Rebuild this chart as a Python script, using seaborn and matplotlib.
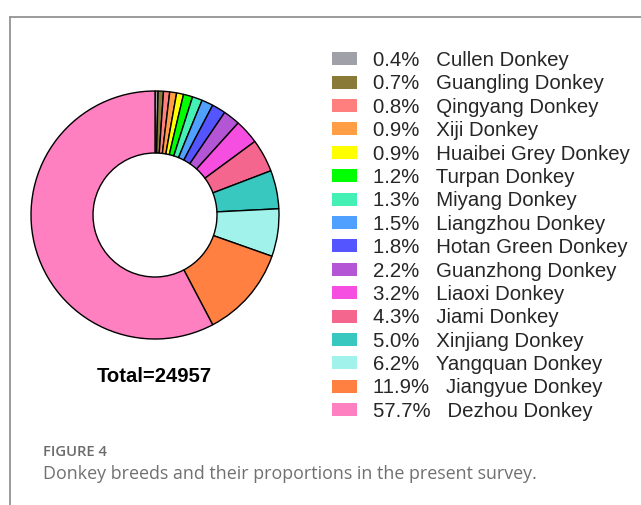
import matplotlib
matplotlib.use("Agg")
import matplotlib.pyplot as plt
from matplotlib.patches import Patch
from matplotlib.lines import Line2D
import seaborn as sns

breeds = ["Cullen Donkey", "Guangling Donkey", "Qingyang Donkey", "Xiji Donkey",
          "Huaibei Grey Donkey", "Turpan Donkey", "Miyang Donkey", "Liangzhou Donkey",
          "Hotan Green Donkey", "Guanzhong Donkey", "Liaoxi Donkey", "Jiami Donkey",
          "Xinjiang Donkey", "Yangquan Donkey", "Jiangyue Donkey", "Dezhou Donkey"]
shares = [0.4, 0.7, 0.8, 0.9, 0.9, 1.2, 1.3, 1.5, 1.8, 2.2, 3.2, 4.3, 5.0, 6.2, 11.9, 57.7]
hex_colors = ["#a0a0a8", "#8a7a38", "#ff7f7f", "#ff9e45", "#ffff00", "#00ff00",
              "#45f0b5", "#50a0ff", "#5555ff", "#b455d5", "#f54ee0", "#f5668f",
              "#38c8c0", "#a0f2ea", "#ff8040", "#ff80c0"]
total = 24957

sns.set_theme(style="white")
plt.rcParams["font.family"] = ["Liberation Sans", "DejaVu Sans"]
palette = sns.color_palette(hex_colors)

W, H = 641, 505
fig = plt.figure(figsize=(W / 100, H / 100), dpi=100)

# donut
ax = fig.add_axes([31 / W, 166 / H, 248 / W, 248 / H])
ax.pie(shares, colors=palette, startangle=90, counterclock=False, radius=1.0,
       wedgeprops=dict(width=0.5, edgecolor="black", linewidth=1.0))
ax.set_xlim(-1.0, 1.0)
ax.set_ylim(-1.0, 1.0)
ax.set_aspect("equal")
ax.axis("off")

fig.text(154 / W, 1 - 377 / H, f"Total={total}", ha="center", va="center",
         fontsize=14.6, fontweight="bold", color="black")

# legend
handles = [Patch(facecolor=c, edgecolor="none") for c in palette]
labels = [f"{s:.1f}%   {b}" for s, b in zip(shares, breeds)]
fig.legend(handles, labels, loc="upper left", bbox_to_anchor=(332 / W, 1 - 51 / H),
           frameon=False, fontsize=14.7, handlelength=1.23, handleheight=0.6,
           handletextpad=0.78, labelspacing=0.215, borderpad=0, borderaxespad=0)

# panel frame
fig.add_artist(Line2D([10 / W, 10 / W], [0, 1 - 17 / H], transform=fig.transFigure,
                      color="#8a8a8a", linewidth=1.2))
fig.add_artist(Line2D([10 / W, 1], [1 - 17 / H, 1 - 17 / H], transform=fig.transFigure,
                      color="#8a8a8a", linewidth=1.2))

# caption
fig.text(43 / W, 1 - 452 / H, "FIGURE 4", ha="left", va="center", fontsize=10.6,
         family=["Open Sans", "DejaVu Sans"], fontweight="semibold", color="#6b6b6b")
fig.text(43 / W, 1 - 474 / H, "Donkey breeds and their proportions in the present survey.",
         ha="left", va="center", fontsize=12.9, family=["Open Sans", "DejaVu Sans"],
         color="#707070")

fig.savefig("out.png", dpi=100)
